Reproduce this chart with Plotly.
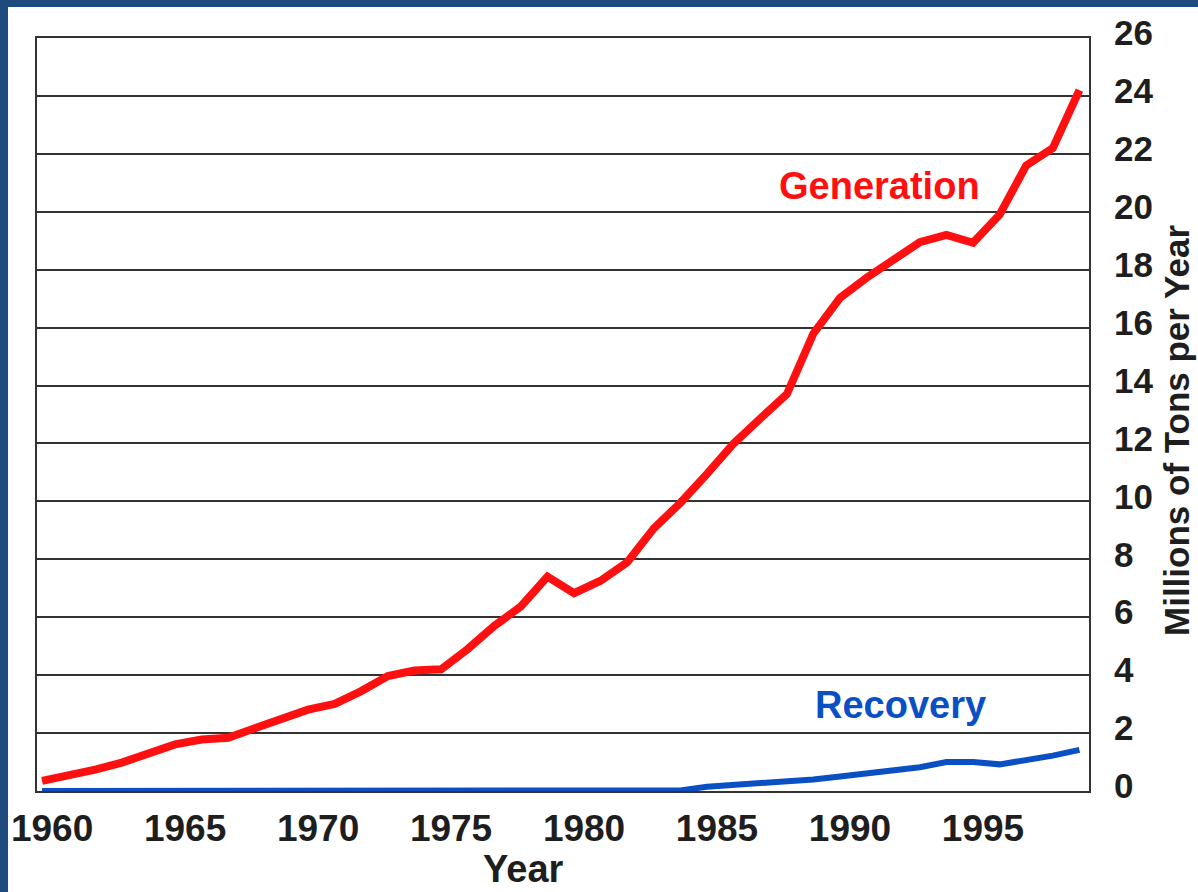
import plotly.graph_objects as go

# ---- data ----
years = [1960, 1961, 1962, 1963, 1964, 1965, 1966, 1967, 1968, 1969,
         1970, 1971, 1972, 1973, 1974, 1975, 1976, 1977, 1978, 1979,
         1980, 1981, 1982, 1983, 1984, 1985, 1986, 1987, 1988, 1989,
         1990, 1991, 1992, 1993, 1994, 1995, 1996, 1997, 1998, 1999]

generation = [0.35, 0.53, 0.74, 0.98, 1.30, 1.61, 1.78, 1.84, 2.17, 2.51,
              2.81, 3.01, 3.45, 3.97, 4.16, 4.20, 4.90, 5.70, 6.37, 7.40,
              6.83, 7.26, 7.90, 9.07, 9.95, 10.95, 12.00, 12.86, 13.70, 15.80,
              17.03, 17.72, 18.33, 18.95, 19.20, 18.93, 19.90, 21.60, 22.20, 24.20]

recovery = [0.00, 0.00, 0.00, 0.00, 0.00, 0.00, 0.00, 0.00, 0.00, 0.00,
            0.00, 0.00, 0.00, 0.00, 0.00, 0.00, 0.00, 0.00, 0.00, 0.00,
            0.00, 0.00, 0.00, 0.00, 0.02, 0.15, 0.20, 0.26, 0.32, 0.40,
            0.50, 0.60, 0.70, 0.82, 1.00, 1.00, 0.92, 1.05, 1.22, 1.42]

x_tick_values = [1960, 1965, 1970, 1975, 1980, 1985, 1990, 1995]
x_tick_labels = ["1960", "1965", "1970", "1975", "1980", "1985", "1990", "1995"]
y_tick_values = [0, 2, 4, 6, 8, 10, 12, 14, 16, 18, 20, 22, 24, 26]

series_labels = ["Generation", "Recovery"]
x_title = "Year"
y_title = "Millions of Tons per Year"

# ---- style ----
RED = "#ff1010"
BLUE = "#0a50c4"
FRAME = "#1f4a7e"
GRID = "#333333"
TEXT = "#1e1e1e"
FONT = "Liberation Sans, Arial, sans-serif"

fig = go.Figure()
fig.add_trace(go.Scatter(x=years, y=recovery, mode="lines",
                         line=dict(color=BLUE, width=6), name=series_labels[1],
                         showlegend=False, hoverinfo="skip"))
fig.add_trace(go.Scatter(x=years, y=generation, mode="lines",
                         line=dict(color=RED, width=8), name=series_labels[0],
                         showlegend=False, hoverinfo="skip"))

fig.update_layout(
    width=1198, height=892,
    margin=dict(l=37, r=109, t=38, b=101, pad=0, autoexpand=False),
    paper_bgcolor="white", plot_bgcolor="white",
    font=dict(family=FONT, color=TEXT),
    xaxis=dict(range=[1959.81, 1999.36], tickvals=x_tick_values, ticktext=x_tick_labels,
               showgrid=False, zeroline=False, showline=True, mirror=True,
               linecolor=GRID, linewidth=2, ticks="", automargin=False,
               tickfont=dict(family=FONT, size=37, color=TEXT, weight="bold"),
               ticklabelstandoff=4, ticklabelshift=10),
    yaxis=dict(range=[0, 26], tickvals=y_tick_values, side="right",
               showgrid=True, gridcolor=GRID, gridwidth=2, zeroline=False,
               showline=True, mirror=True, linecolor=GRID, linewidth=2, ticks="",
               automargin=False,
               tickfont=dict(family=FONT, size=35, color=TEXT, weight="bold"),
               ticklabelstandoff=16, ticklabelshift=-5),
    annotations=[
        dict(x=1991.5, y=20.9, xref="x", yref="y", text=series_labels[0], showarrow=False,
             font=dict(family=FONT, size=38, color=RED, weight="bold")),
        dict(x=1992.26, y=2.96, xref="x", yref="y", text=series_labels[1], showarrow=False,
             font=dict(family=FONT, size=38, color=BLUE, weight="bold")),
        dict(x=(523 - 37) / 1052, y=1 - (869 - 38) / 753, xref="paper", yref="paper",
             text=x_title, showarrow=False, xanchor="center", yanchor="middle",
             font=dict(family=FONT, size=38, color=TEXT, weight="bold")),
        dict(x=(1176 - 37) / 1052, y=1 - (431 - 38) / 753, xref="paper", yref="paper",
             text=y_title, showarrow=False, textangle=-90, xanchor="center", yanchor="middle",
             font=dict(family=FONT, size=35, color=TEXT, weight="bold")),
    ],
    shapes=[
        dict(type="rect", xref="paper", yref="paper", x0=-0.1, x1=(8 - 37) / 1052,
             y0=-0.3, y1=1.2, fillcolor=FRAME, line=dict(width=0), layer="above"),
        dict(type="rect", xref="paper", yref="paper", x0=-0.1, x1=1.3,
             y0=1 + (38 - 7) / 753, y1=1.2, fillcolor=FRAME, line=dict(width=0), layer="above"),
    ],
)

fig.write_html("out.html", config={"displayModeBar": False},
               post_script="document.body.style.margin='0';document.body.style.overflow='hidden';")
